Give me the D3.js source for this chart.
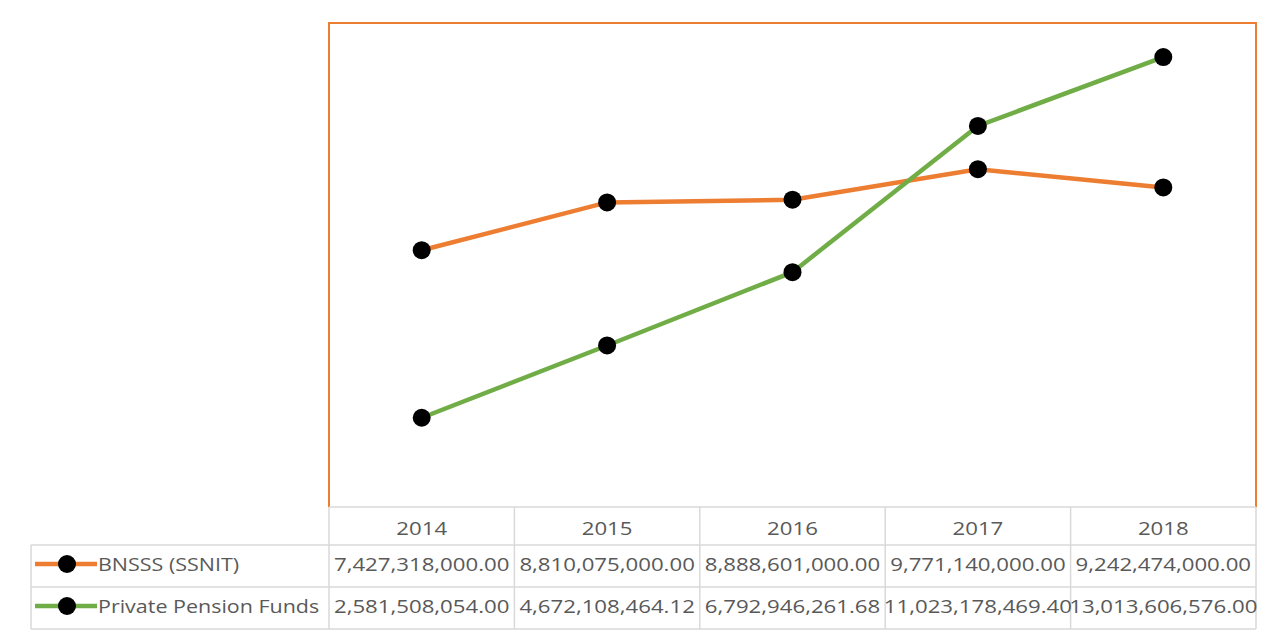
<!DOCTYPE html>
<html>
<head>
<meta charset="utf-8">
<script src="https://cdn.jsdelivr.net/npm/d3@7"></script>
<style>
  body { margin: 0; background: #fff; }
  text { font-family: "Open Sans", "Noto Sans", sans-serif; fill: #595959; }
</style>
</head>
<body>
<svg id="chart"></svg>
<script>
var WIDTH = 1263;
var HEIGHT = 639;

// chart data
var years = ["2014", "2015", "2016", "2017", "2018"];
var seriesNames = ["BNSSS (SSNIT)", "Private Pension Funds"];
var bnsss = [7427318000.00, 8810075000.00, 8888601000.00, 9771140000.00, 9242474000.00];
var privateFunds = [2581508054.00, 4672108464.12, 6792946261.68, 11023178469.40, 13013606576.00];
var seriesColors = ["#ed7d31", "#70ad47"];
var seriesValues = [bnsss, privateFunds];

//plot area + table layout
var plotLeft = 329, plotRight = 1256, plotTop = 23, plotBottom = 507;
var tableLeft = 31;
var rowTops = [507, 545, 587, 629];
var gridColor = "#d9d9d9";

var svg = d3.select("#chart").attr("width", WIDTH).attr("height", HEIGHT);

var x = d3.scaleBand().domain(years).range([plotLeft, plotRight]);
var y = d3.scaleLinear().domain([0, 14000000000]).range([plotBottom, plotTop]);
var fmt = d3.format(",.2f");
var cx = function (d) { return x(d) + x.bandwidth() / 2; };

//plot border (orange, no bottom edge - table sits there)
svg.append("path")
  .attr("d", "M" + plotLeft + "," + plotBottom + "V" + plotTop + "H" + plotRight + "V" + plotBottom)
  .style("fill", "none")
  .style("stroke", "#ed7d31")
  .style("stroke-width", 2);

//series lines + markers
var line = d3.line()
  .x(function (d, i) { return cx(years[i]); })
  .y(function (d) { return y(d); });

seriesValues.forEach(function (vals, s) {
  svg.append("path")
    .datum(vals)
    .attr("d", line)
    .style("fill", "none")
    .style("stroke", seriesColors[s])
    .style("stroke-width", 4.5);
});
seriesValues.forEach(function (vals) {
  svg.append("g")
    .selectAll("circle")
    .data(vals)
    .enter()
    .append("circle")
    .attr("cx", function (d, i) { return cx(years[i]); })
    .attr("cy", function (d) { return y(d); })
    .attr("r", 9)
    .style("fill", "#000");
});

//data table grid
var grid = svg.append("g")
  .style("stroke", gridColor)
  .style("stroke-width", 1.5);
// horizontal lines
grid.append("line").attr("x1", plotLeft).attr("x2", plotRight).attr("y1", rowTops[0]).attr("y2", rowTops[0]);
[1, 2, 3].forEach(function (r) {
  grid.append("line").attr("x1", tableLeft).attr("x2", plotRight).attr("y1", rowTops[r]).attr("y2", rowTops[r]);
});
// vertical lines
grid.append("line").attr("x1", tableLeft).attr("x2", tableLeft).attr("y1", rowTops[1]).attr("y2", rowTops[3]);
years.forEach(function (yr) {
  grid.append("line").attr("x1", x(yr)).attr("x2", x(yr)).attr("y1", rowTops[0]).attr("y2", rowTops[3]);
});
grid.append("line").attr("x1", plotRight).attr("x2", plotRight).attr("y1", rowTops[0]).attr("y2", rowTops[3]);

function cellText(px, py, str, anchor, sx) {
  svg.append("text")
    .attr("transform", "translate(" + px + "," + py + ") scale(" + sx + ",1)")
    .attr("text-anchor", anchor)
    .style("font-size", "19px")
    .text(str);
}

//header row
years.forEach(function (yr) { cellText(cx(yr), 535, yr, "middle", 1.17); });

//value rows
var baselines = [571, 613];
seriesValues.forEach(function (vals, s) {
  vals.forEach(function (v, i) { cellText(cx(years[i]), baselines[s], fmt(v), "middle", 1.17); });
});

//legend keys inside table
seriesNames.forEach(function (name, s) {
  var my = baselines[s] - 7;
  svg.append("line")
    .attr("x1", 35).attr("x2", 97).attr("y1", my).attr("y2", my)
    .style("stroke", seriesColors[s])
    .style("stroke-width", 4.5);
  svg.append("circle")
    .attr("cx", 67).attr("cy", my).attr("r", 9)
    .style("fill", "#000");
  cellText(98, baselines[s], name, "start", 1.13);
});
</script>
</body>
</html>
